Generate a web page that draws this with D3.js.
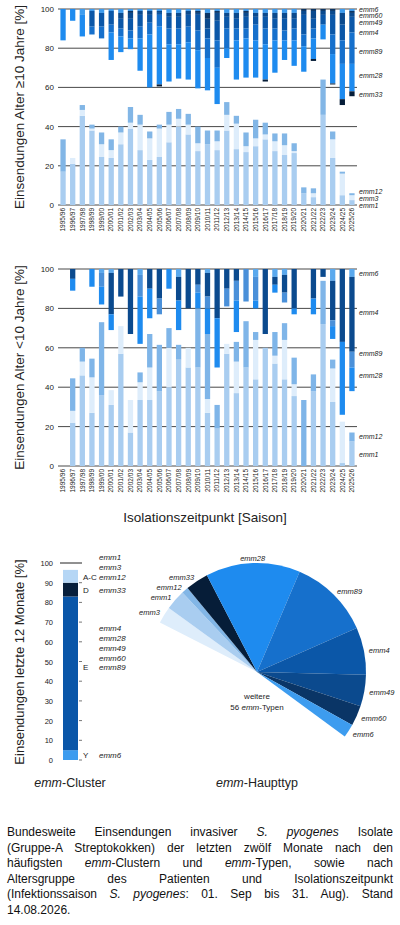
<!DOCTYPE html>
<html><head><meta charset="utf-8">
<script src="https://cdn.jsdelivr.net/npm/d3@7"></script>
<style>body{margin:0;background:#fff}svg{font-family:"Liberation Sans",Arial,sans-serif}</style>
</head><body>
<svg id="c" width="400" height="925"></svg>
<script>
var seasons = ["1995/96","1996/97","1997/98","1998/99","1999/00","2000/01","2001/02","2002/03","2003/04","2004/05","2005/06","2006/07","2007/08","2008/09","2009/10","2010/11","2011/12","2012/13","2013/14","2014/15","2015/16","2016/17","2017/18","2018/19","2019/20","2020/21","2021/22","2022/23","2023/24","2024/25","2025/26"];
var yTicks = [0,20,40,60,80,100];

// Alter >= 10 Jahre: from 0 upward
var old_emm1  = [17,21,45.5,38,24.5,24,31,39,28,23,24.5,32,40,36,27.5,31,28,38,28.5,27,30,33.5,27.5,25.5,26.5,6,4,46,24,5,2.5];
var old_emm3  = [0,3,3,1,6.5,4,6,3,13,11,14.5,9,4,5,4,0,4.5,8,13,3,4,2.5,5,5,1,0,2,0,9.5,11,2.5];
var old_emm12 = [16.5,0,2.5,2,6,5.5,3,8,5,3.5,2,6.5,5,5.5,8.5,7,5.5,6.5,4,7,9.5,6,4,6,4,3,2.5,18,4,1,1];
// from 100 downward
var old_emm6  = [0,0,3,1,2,1,2,1,1,1,1,2,2,1,1,2,1,2,2,1,2,2,2,2,2,0,0,0,0,2,1];
var old_emm60 = [0,0,0,0,0,0,0,1,0,0,0,0,0,0,1,3,1,0,0,1,0,0,0,0,0,1,1,1,1,0,1];
var old_emm49 = [0,0,0,0,0,0,3,3,2,2,1,2,2,2,1,5,4,2,3,2,2,2,3,3,3,2,4,2,2,6,2];
var old_emm4  = [0,0,0,8,7,7,5,6,6,4,1,6,6,6,8,5,10,6,5,6,4,6,5,6,5,10,5,5,10,8,8];
var old_emm89 = [0,0,0,4,6,4,4,4,6,6,6,8,8,8,10,10,14,10,6,5,8,8,6,5,6,6,5,0,10,12,16];
var old_emm28 = [16,6,11,0,0,14,8,5.5,16.5,27,29.5,19,17.5,19,19.5,16.5,18.5,5,20,20,19,18,16.5,10,13,13,10.5,7.5,15,18,14];
var old_emm33 = [0,0,0,0,0,0,0,0,0,0,1,0,0,0,0,0,0,0,0,0,0,1,0,0,0,0,1,0,0.5,3,2.5];

// Alter < 10 Jahre
var young_emm1  = [0,22,46,27,36,31,57,17,33.5,33.5,38,40,54,50,50,27,19,57,37,50,44,60,52,44,35.5,0,38,72,32.5,1.5,12.5];
var young_emm3  = [0,6,7,18,0,7.5,14,16.5,9,16.5,0,20,0,10,0,7,0,5,16,0,20,0,4,20,6,0,0,0,17,21,0];
var young_emm12 = [0,16.5,7,9.5,37,0,0,0,5,17,23.5,10,7.5,0,30,33,12,0,10,23.5,4,0,12,8.5,13.5,33.5,8.5,22,4.5,0,4.5];
var young_emm6  = [0,0,0,0,2,2,0,0,3,0,0,0,4,0,0,2,0,0,0,0,4,0,4,3,0,0,0,0,6,0,4];
var young_emm4  = [0,5,0,0,0,21,14,33,0,10,15,0,12,20,8,12,25,10,6,0,0,33,4,9,20,0,15,4,20,37,38];
var young_emm89 = [0,0,0,0,7,0,0,0,11,0,8,0,0,0,4,6,0,9,10,16.5,12,0,0,5,0,0,0,0,3,0,8];
var young_emm28 = [0,6,0,9,9,8,0,0,24,15,0,10,15,0,8,13,25,0,16,0,4,0,4,0,3,0,8,0,6.5,37,12];

// letzte 12 Monate
var clusters = ["Y","E","D","A-C"];
var clusterValues = [5,78,7,6.5];
var clusterTypes = [["emm6"],["emm4","emm28","emm49","emm60","emm89"],["emm33"],["emm1","emm3","emm12"]];
var pieTypes  = ["emm3","emm1","emm12","emm33","emm28","emm89","emm4","emm49","emm60","emm6","weitere"];
var pieValues = [2.5,3,1,3.4,14,12,7,4.7,3,2,47.4];

var col = {emm1:"#a9cdf0",emm3:"#deedfb",emm12:"#82b6e6",emm6:"#3d9cef",emm60:"#0a3566",emm49:"#0b4a8e",
  emm4:"#0b57a8",emm89:"#1670cc",emm28:"#1e8bef",emm33:"#061d38",weitere:"none"};
var youngCol = {emm1:"#a9cdf0",emm3:"#deedfb",emm12:"#7fb5e8",emm6:"#5aa9ee",emm4:"#0b4a8e",emm89:"#4a90d9",emm28:"#1e8bef"};
var clusterCol = ["#3d9cef","#0a56a8","#071f3b","#b5d6f5"];

var svg = d3.select("#c");

function barChart(top, bottom, ups, downs, colors, rightLabels, ylabel) {
  var x = d3.scaleBand().domain(seasons).range([58, 357]).paddingInner(0.45).paddingOuter(0.25);
  var y = d3.scaleLinear().domain([0, 100]).range([bottom, top]);
  var g = svg.append("g");
  g.selectAll(".grid").data(yTicks).join("line")
    .attr("x1", 58).attr("x2", 357).attr("y1", d => y(d)).attr("y2", d => y(d))
    .attr("stroke", "#333").attr("stroke-width", 0.9);
  seasons.forEach(function(s, i) {
    var acc = 0;
    ups.forEach(function(u) {
      var v = u[1][i];
      if (v > 0) g.append("rect").attr("x", x(s)).attr("width", x.bandwidth())
        .attr("y", y(acc + v)).attr("height", y(acc) - y(acc + v)).attr("fill", colors[u[0]]);
      acc += v;
    });
    acc = 100;
    downs.forEach(function(u) {
      var v = u[1][i];
      if (v > 0) g.append("rect").attr("x", x(s)).attr("width", x.bandwidth())
        .attr("y", y(acc)).attr("height", y(acc - v) - y(acc)).attr("fill", colors[u[0]]);
      acc -= v;
    });
  });
  var ya = g.append("g").attr("transform", "translate(56,0)")
    .call(d3.axisLeft(y).tickValues(yTicks).tickSize(0).tickPadding(2));
  ya.select(".domain").remove();
  ya.selectAll("text").attr("font-size", 8).attr("fill", "#222");
  var xa = g.append("g").attr("transform", "translate(0," + (bottom + 2) + ")")
    .call(d3.axisBottom(x).tickSize(0).tickPadding(0));
  xa.select(".domain").remove();
  xa.selectAll("text").attr("font-size", 6.5).attr("fill", "#222")
    .attr("transform", "rotate(-90)").attr("text-anchor", "end").attr("dx", 0).attr("dy", "0.35em").attr("y", 0).attr("x", -1);
  g.selectAll(".rl").data(rightLabels).join("text")
    .attr("x", 359).attr("y", d => y(d[1]) + 2.5).attr("font-size", 7).attr("font-style", "italic")
    .attr("fill", "#222").text(d => d[0]);
  g.append("text").attr("transform", "translate(24," + ((top + bottom) / 2) + ") rotate(-90)")
    .attr("text-anchor", "middle").attr("font-size", 13.5).attr("fill", "#222").text(ylabel);
}

barChart(9, 205,
  [["emm1", old_emm1], ["emm3", old_emm3], ["emm12", old_emm12]],
  [["emm6", old_emm6], ["emm60", old_emm60], ["emm49", old_emm49], ["emm4", old_emm4], ["emm89", old_emm89], ["emm28", old_emm28], ["emm33", old_emm33]],
  col,
  [["emm6",100],["emm60",96.5],["emm49",93],["emm4",88],["emm89",78.5],["emm28",66],["emm33",56.5],["emm12",7],["emm3",3.5],["emm1",0]],
  "Einsendungen  Alter \u226510 Jahre  [%]");

barChart(269, 466,
  [["emm1", young_emm1], ["emm3", young_emm3], ["emm12", young_emm12]],
  [["emm6", young_emm6], ["emm4", young_emm4], ["emm89", young_emm89], ["emm28", young_emm28]],
  youngCol,
  [["emm6",97.5],["emm4",78],["emm89",57],["emm28",46],["emm12",15],["emm1",6]],
  "Einsendungen  Alter <10 Jahre  [%]");

svg.append("text").attr("x", 205).attr("y", 522).attr("text-anchor", "middle")
  .attr("font-size", 13.5).attr("fill", "#222").text("Isolationszeitpunkt  [Saison]");

// cluster bar
var yc = d3.scaleLinear().domain([0, 100]).range([760, 563]);
var cg = svg.append("g");
var cacc = 0;
var clusterLabelAt = [2.5, 47, 86.5, 93];
clusters.forEach(function(c, i) {
  var v = clusterValues[i];
  cg.append("rect").attr("x", 63).attr("width", 15).attr("y", yc(cacc + v)).attr("height", yc(cacc) - yc(cacc + v)).attr("fill", clusterCol[i]);
  var ly = yc(clusterLabelAt[i]) + 3;
  cg.append("text").attr("x", 83).attr("y", ly).attr("font-size", 8).attr("fill", "#222").text(c);
  var types = clusterTypes[i];
  types.forEach(function(t, k) {
    var off = (k - (types.length - 1)) * 9.8;
    cg.append("text").attr("x", 99).attr("y", ly + off).attr("font-size", 8).attr("font-style", "italic").attr("fill", "#222").text(t);
  });
  cacc += v;
});
cg.append("line").attr("x1", 60).attr("x2", 82).attr("y1", yc(100)).attr("y2", yc(100)).attr("stroke", "#222");
cg.selectAll(".tk").data(d3.range(0, 91, 10)).join("line")
  .attr("x1", 79).attr("x2", 82).attr("y1", d => yc(d)).attr("y2", d => yc(d)).attr("stroke", "#777");
cg.selectAll(".tl").data(d3.range(0, 101, 10)).join("text")
  .attr("x", 53).attr("y", d => yc(d) + 3).attr("text-anchor", "end").attr("font-size", 7.5).attr("fill", "#222").text(d => d);
cg.append("text").attr("transform", "translate(24,662) rotate(-90)").attr("text-anchor", "middle")
  .attr("font-size", 13).attr("fill", "#222").text("Einsendungen  letzte 12 Monate  [%]");

// pie
var pie = d3.pie().sort(null).startAngle(-63 * Math.PI / 180).endAngle(297 * Math.PI / 180);
var arcs = pie(pieValues);
var r = 109;
var arc = d3.arc().innerRadius(0).outerRadius(r);
var pg = svg.append("g").attr("transform", "translate(257,672)");
pg.selectAll("path").data(arcs).join("path").attr("d", arc).attr("fill", (d, i) => col[pieTypes[i]]);
pg.selectAll(".pl").data(arcs.slice(0, 10)).join("text")
  .each(function(d, i) {
    var a = (d.startAngle + d.endAngle) / 2;
    var rr = r + 5;
    var px = Math.sin(a) * rr, py = -Math.cos(a) * rr;
    var t = d3.select(this);
    t.attr("x", px).attr("y", py + 3).attr("text-anchor", Math.sin(a) > 0.3 ? "start" : (Math.sin(a) < -0.3 ? "end" : "middle"));
  })
  .attr("font-size", 7.5).attr("font-style", "italic").attr("fill", "#222")
  .text((d, i) => pieTypes[i]);
pg.append("text").attr("x", 0).attr("y", 27).attr("text-anchor", "middle").attr("font-size", 8).attr("fill", "#222").text("weitere");
var wt = pg.append("text").attr("x", 0).attr("y", 38).attr("text-anchor", "middle").attr("font-size", 8).attr("fill", "#222");
wt.append("tspan").text("56 ");
wt.append("tspan").attr("font-style", "italic").text("emm");
wt.append("tspan").text("-Typen");

function labelEmm(x, y, rest) {
  var t = svg.append("text").attr("x", x).attr("y", y).attr("text-anchor", "middle").attr("font-size", 12.5).attr("fill", "#222");
  t.append("tspan").attr("font-style", "italic").text("emm");
  t.append("tspan").text(rest);
}
labelEmm(70, 787, "-Cluster");
labelEmm(257, 787, "-Haupttyp");

// caption
var caption = [
  [["Bundesweite Einsendungen invasiver ", 0], ["S. pyogenes", 1], [" Isolate", 0]],
  [["(Gruppe-A Streptokokken) der letzten zwölf Monate nach den", 0]],
  [["häufigsten ", 0], ["emm", 1], ["-Clustern und ", 0], ["emm", 1], ["-Typen, sowie nach", 0]],
  [["Altersgruppe des Patienten und Isolationszeitpunkt", 0]],
  [["(Infektionssaison ", 0], ["S. pyogenes", 1], [": 01. Sep bis 31. Aug). Stand", 0]],
  [["14.08.2026.", 0]]
];
caption.forEach(function(line, i) {
  var t = svg.append("text").attr("x", 7).attr("y", 836 + i * 15.6).attr("font-size", 12).attr("fill", "#111");
  line.forEach(function(p) { t.append("tspan").attr("font-style", p[1] ? "italic" : "normal").text(p[0]); });
  if (i < caption.length - 1) {
    var w = t.node().getComputedTextLength();
    var words = line.map(p => p[0]).join("").split(" ").length - 1;
    if (words > 0) t.attr("word-spacing", Math.max(0, (386 - w) / words));
  }
});
</script>
</body></html>
